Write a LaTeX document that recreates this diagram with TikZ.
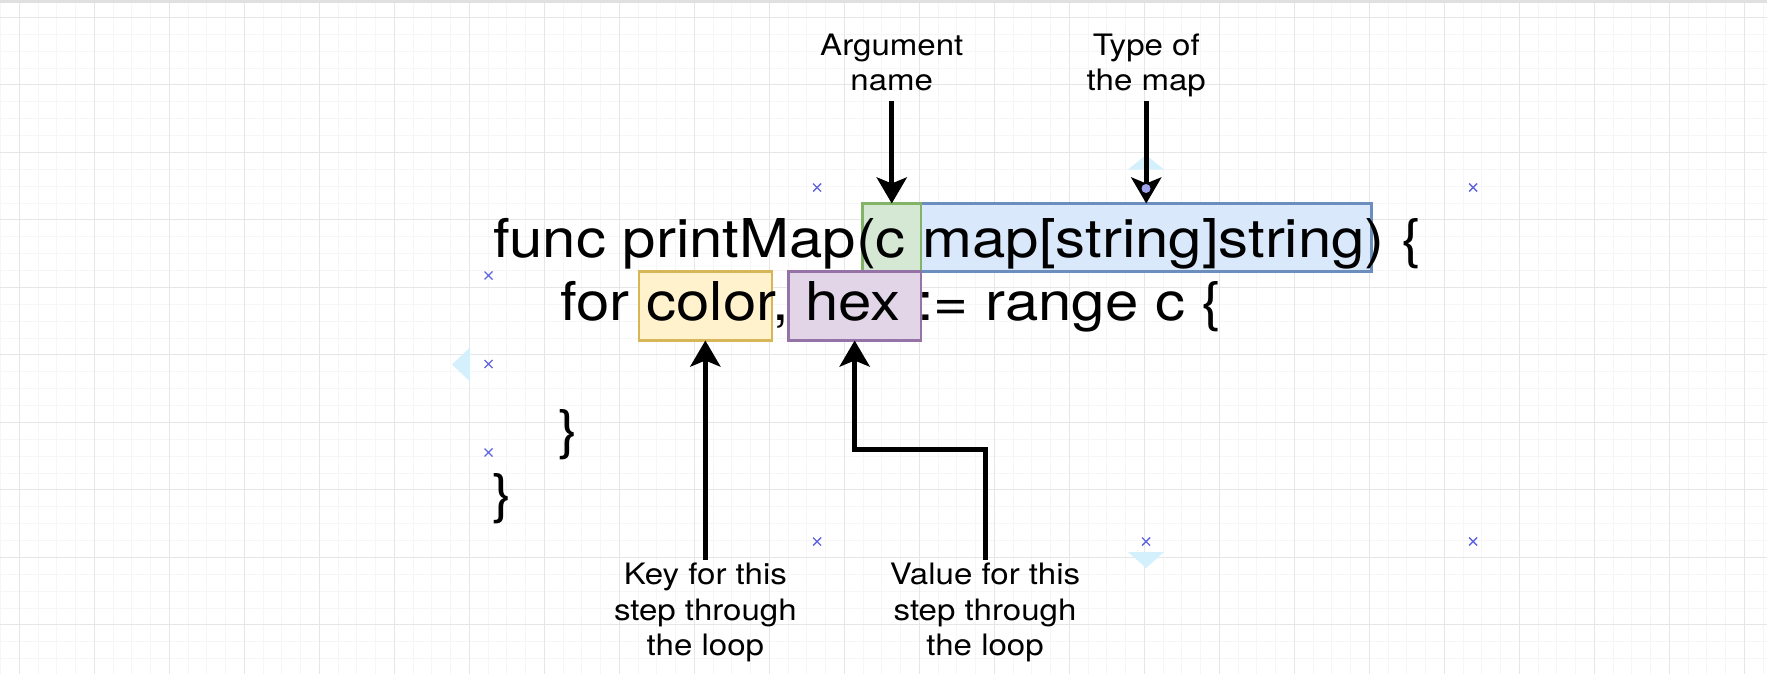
\documentclass[tikz,border=0pt]{standalone}
\usepackage{fontspec}
\setmainfont{TeX Gyre Heros}
\usepackage{graphicx}
\usetikzlibrary{arrows.meta}
\definecolor{gridmajor}{HTML}{E6E6E6}
\definecolor{gridminor}{HTML}{F6F6F6}
\definecolor{gfill}{HTML}{D5E8D4}\definecolor{gline}{HTML}{82B366}
\definecolor{bfill}{HTML}{DAE8FC}\definecolor{bline}{HTML}{6C8EBF}
\definecolor{yfill}{HTML}{FFF2CC}\definecolor{yline}{HTML}{D6B656}
\definecolor{pfill}{HTML}{E1D5E7}\definecolor{pline}{HTML}{9673A6}
\definecolor{hintblue}{RGB}{212,240,252}
\definecolor{markblue}{RGB}{95,100,225}
\newcommand{\codetext}[1]{\scalebox{1.12}[1]{\fontsize{53.5}{63.9}\selectfont #1}}
\newcommand{\lbltext}[1]{\scalebox{1.12}[1]{\fontsize{29.5}{35.3}\selectfont\begin{tabular}{@{}c@{}}#1\end{tabular}}}
\newcommand{\selmark}[2]{\draw[xmk] ({#1-4},{#2-4}) -- ({#1+4},{#2+4}) ({#1-4},{#2+4}) -- ({#1+4},{#2-4});}
\begin{document}
\begin{tikzpicture}[x=1pt,y=-1pt,
  codenode/.style={inner sep=0pt, outer sep=0pt, anchor=base west},
  lblnode/.style={inner sep=0pt, outer sep=0pt},
  hlbox/.style={inner sep=0pt, outer sep=0pt, line width=2.4pt},
  arr/.style={line width=5pt, -{Stealth[length=26pt,width=30pt,inset=6pt]}},
  xmk/.style={draw=markblue, line width=1.4pt},
]
\useasboundingbox (0,0) rectangle (1767,674);
\fill[white] (0,0) rectangle (1767,674);
% grid
\foreach \i in {0,...,94} \draw[gridminor, line width=0.8pt] ({0.55+18.75*\i},0) -- ++(0,674);
\foreach \j in {0,...,39} \draw[gridminor, line width=0.8pt] (0,{0.425+16.875*\j}) -- ++(1767,0);
\foreach \i in {0,...,23} \draw[gridmajor, line width=1.2pt] ({19.3+75*\i},0) -- ++(0,674);
\foreach \j in {0,...,9} \draw[gridmajor, line width=1.2pt] (0,{17.3+67.5*\j}) -- ++(1767,0);
\fill[black!12] (0,0) rectangle (1767,3.5);
% hover hints
\fill[hintblue] (1146,155) -- (1164,169.5) -- (1128,169.5) -- cycle;
\fill[hintblue] (1146,568) -- (1164,552) -- (1128,552) -- cycle;
\fill[hintblue] (452,364.5) -- (470,347.5) -- (470,381.5) -- cycle;
% highlight boxes
\node[hlbox, fill=bfill, draw=bline, minimum width=450.5pt, minimum height=68pt] (typebox) at (1146.25,237.5) {};
\node[hlbox, fill=gfill, draw=gline, minimum width=58.5pt, minimum height=68pt] (argbox) at (891.75,237.5) {};
\node[hlbox, fill=yfill, draw=yline, minimum width=132.7pt, minimum height=69pt] (keybox) at (705.35,306) {};
\node[hlbox, fill=pfill, draw=pline, minimum width=132.7pt, minimum height=69pt] (valbox) at (854.65,306) {};
% code
\node[codenode] (line1) at (493,257) {\codetext{func printMap(c map[string]string) \{}};
\node[codenode] (line2) at (560.5,320.5) {\codetext{for color, hex := range c \{}};
\node[codenode] (line4) at (558.5,448.5) {\codetext{\}}};
\node[codenode] (line5) at (492.5,512.5) {\codetext{\}}};
% labels
\node[lblnode, anchor=south] (argname) at (891.75,101.3) {\lbltext{Argument\\name}};
\node[lblnode, anchor=south] (maptype) at (1146.25,101.3) {\lbltext{Type of\\the map}};
\node[lblnode, anchor=north] (keylbl) at (705.35,560) {\lbltext{Key for this\\step through\\the loop}};
\node[lblnode, anchor=north] (vallbl) at (985,560) {\lbltext{Value for this\\step through\\the loop}};
% arrows
\draw[arr] (argname.south) -- (argbox.north);
\draw[arr] (maptype.south) -- (typebox.north);
\draw[arr] (keylbl.north) -- (keybox.south);
\coordinate (elbow) at (0,449);
\draw[arr] (vallbl.north) -- (vallbl.north |- elbow) -| (valbox.south);
% selection marks
\fill[markblue!60] (1146,188.5) circle (4.5pt);
\selmark{817}{187.5}
\selmark{1473}{187.5}
\selmark{488.5}{275.5}
\selmark{488.5}{364}
\selmark{488.5}{452.5}
\selmark{817}{541.5}
\selmark{1146}{541.5}
\selmark{1473}{541.5}
\end{tikzpicture}
\end{document}
